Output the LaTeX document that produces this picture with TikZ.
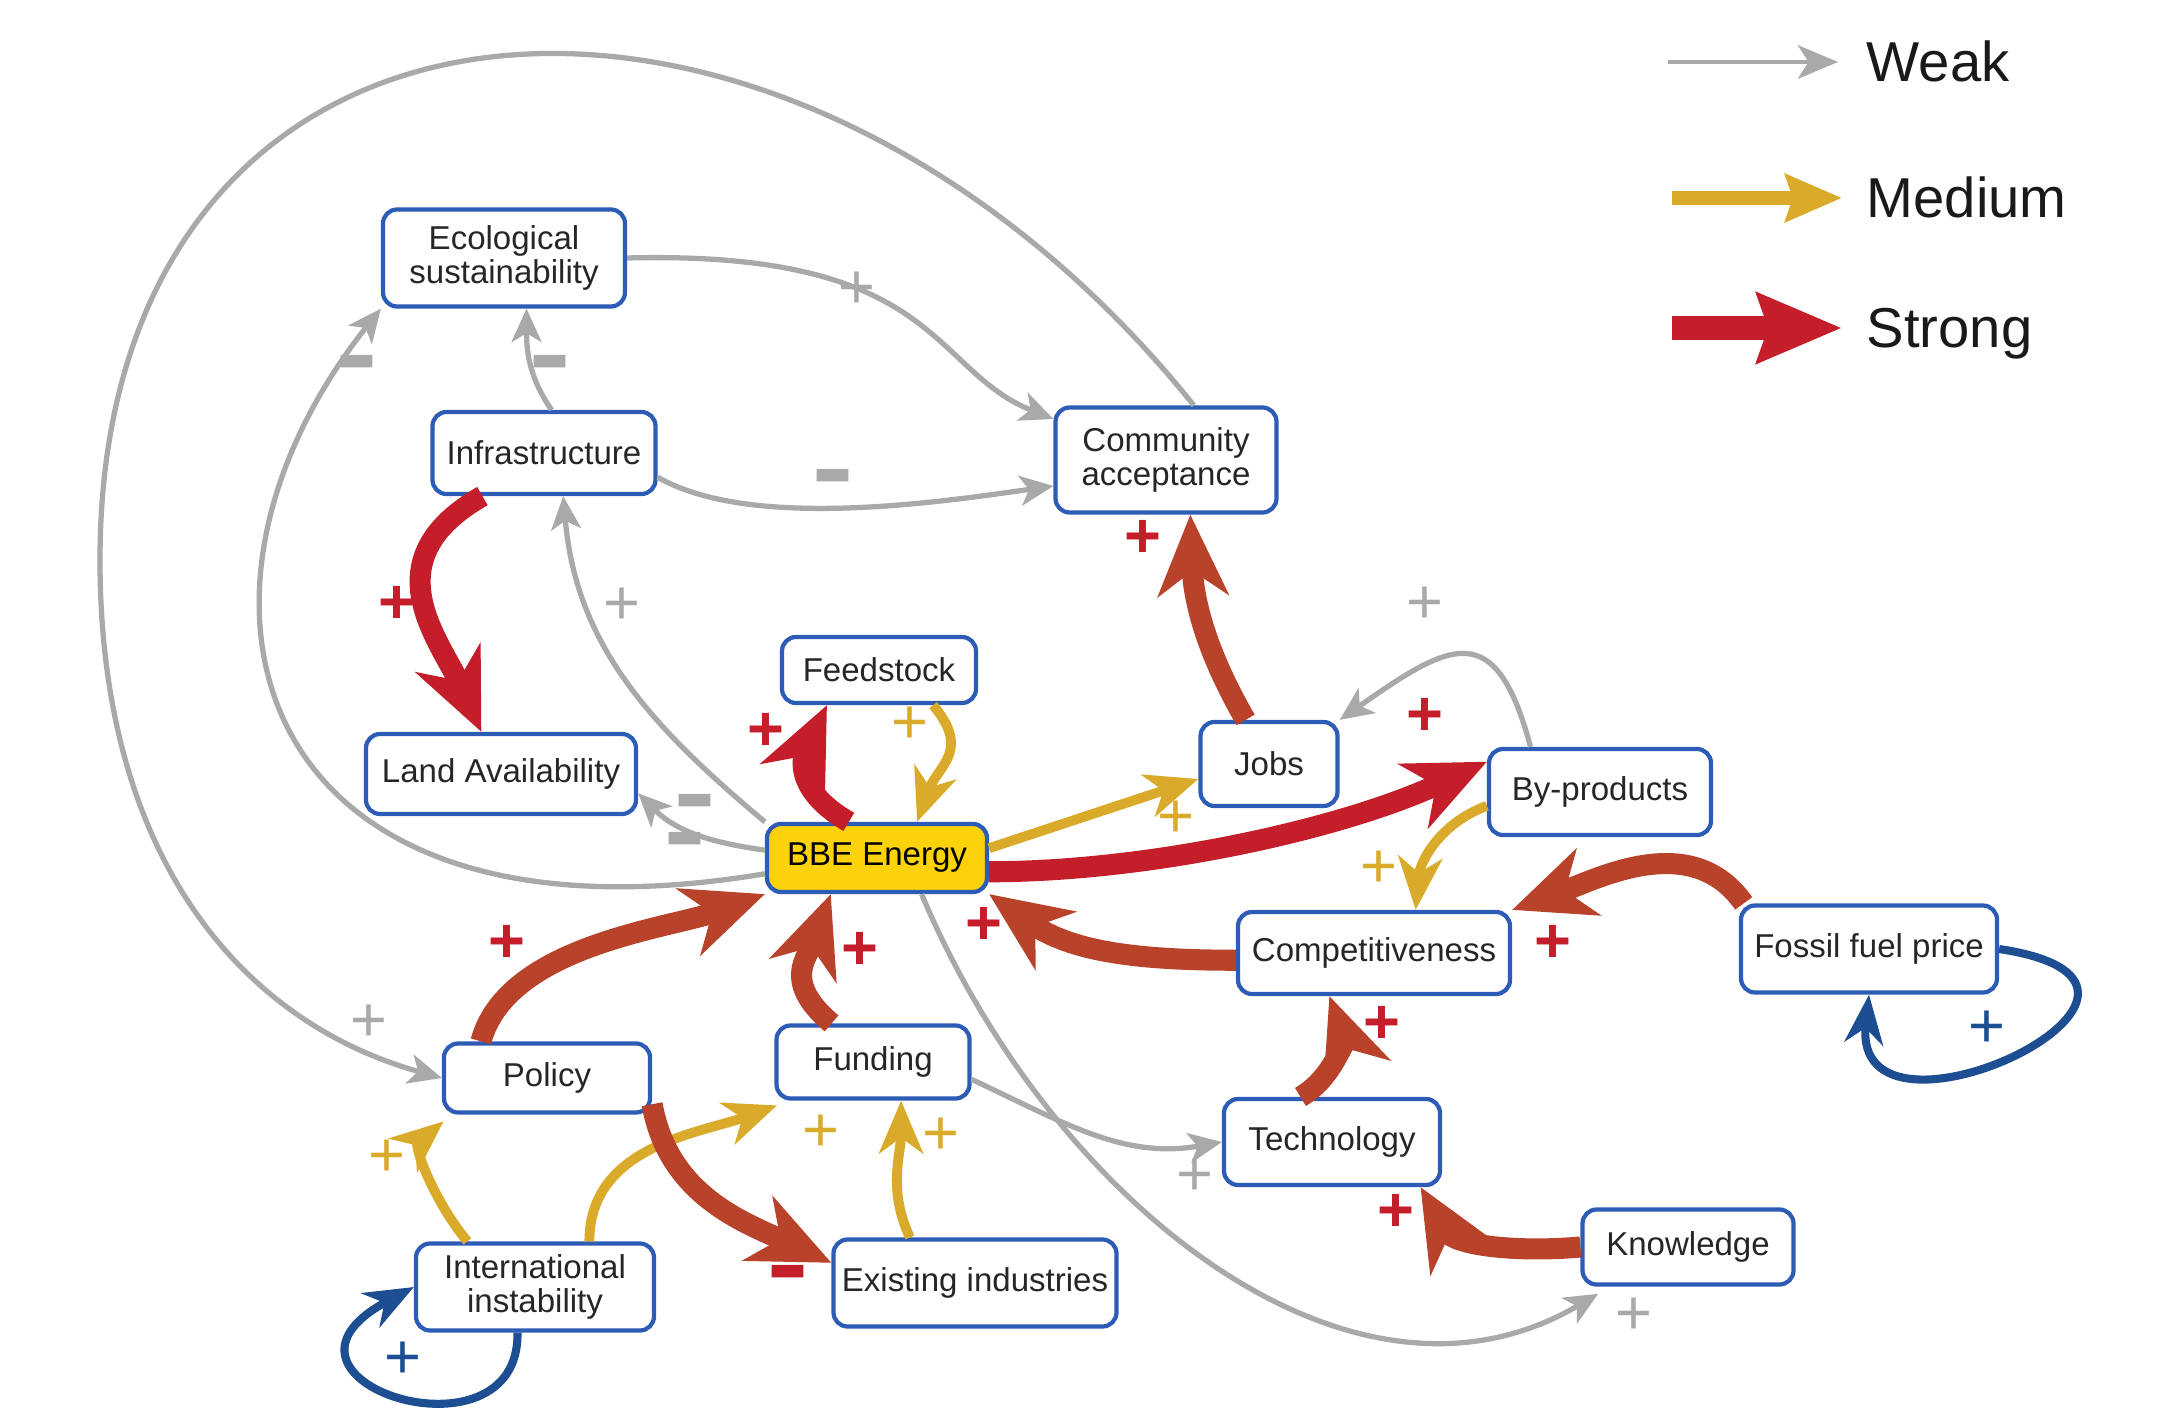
\documentclass[tikz,border=0pt]{standalone}
\usepackage{fontspec}
\setmainfont{Liberation Sans}
\usepackage{graphicx}
\usetikzlibrary{arrows.meta}
\usetikzlibrary{positioning}
\definecolor{weakgray}{RGB}{168,170,170}
\definecolor{midyellow}{RGB}{218,170,42}
\definecolor{strongred}{RGB}{196,30,42}
\definecolor{strongrust}{RGB}{185,66,43}
\definecolor{loopblue}{RGB}{28,78,145}
\definecolor{boxblue}{RGB}{45,92,182}
\definecolor{bbegold}{RGB}{252,210,10}
\newcommand{\minusmark}{\raisebox{-8.9pt}[1.3pt][1.3pt]{\scalebox{1}[1.8]{\textbf{−}}}}
\tikzset{
    factor/.style={draw=boxblue, line width=1.2pt, rounded corners=4pt, fill=white,
        align=center, inner sep=1pt, text=black!85,
        font=\fontsize{9.4}{9.8}\selectfont},
    weakline/.style={draw=weakgray, line width=1.5pt,
        -{Stealth[length=9.5pt,width=8.5pt,inset=2.5pt]}},
    mediumline/.style={draw=midyellow, line width=2.8pt,
        -{Stealth[length=15pt,width=12.5pt,inset=4.5pt]}},
    strongline/.style={draw=strongrust, line width=6pt,
        -{Stealth[length=23pt,width=20pt,inset=7pt]}},
    strongredline/.style={strongline, draw=strongred},
    loopline/.style={draw=loopblue, line width=2.3pt,
        -{Stealth[length=14pt,width=11pt,inset=4.5pt]}},
    weaksign/.style={text=weakgray, inner sep=0pt, font=\fontsize{18}{18}\selectfont},
    mediumsign/.style={weaksign, text=midyellow},
    strongsign/.style={weaksign, text=strongred, font=\bfseries\fontsize{18}{18}\selectfont},
    loopsign/.style={weaksign, text=loopblue},
    legendtext/.style={anchor=base west, inner sep=0pt, text=black!90,
        font=\fontsize{16}{16}\selectfont},
}
\begin{document}
\begin{tikzpicture}[x=0.1mm, y=0.1mm]
	\useasboundingbox (0,0) rectangle (2167,-1411);
	% factors
	\node[factor, minimum width=24.2mm, minimum height=9.7mm] (ecol) at (504,-258) {Ecological\\sustainability};
	\node[factor, minimum width=22.3mm, minimum height=8.2mm] (infra) at (544,-453) {Infrastructure};
	\node[factor, minimum width=22.1mm, minimum height=10.5mm] (comm) at (1166,-460) {Community\\acceptance};
	\node[factor, minimum width=19.4mm, minimum height=6.6mm] (feed) at (879,-670) {Feedstock};
	\node[factor, minimum width=27mm, minimum height=8mm] (land) at (501,-774) {Land Availability};
	\node[factor, minimum width=13.7mm, minimum height=8.4mm] (jobs) at (1269,-764) {Jobs};
	\node[factor, minimum width=22.2mm, minimum height=8.6mm] (byprod) at (1600,-792) {By-products};
	\node[factor, fill=bbegold, text=black, minimum width=22mm, minimum height=6.8mm] (bbe) at (877,-858) {BBE Energy};
	\node[factor, minimum width=27.2mm, minimum height=8.2mm] (comp) at (1374,-953) {Competitiveness};
	\node[factor, minimum width=25.6mm, minimum height=8.7mm] (fossil) at (1869,-949) {Fossil fuel price};
	\node[factor, minimum width=20.6mm, minimum height=6.9mm] (policy) at (547,-1078) {Policy};
	\node[factor, minimum width=19.3mm, minimum height=7.3mm] (fund) at (873,-1062) {Funding};
	\node[factor, minimum width=21.6mm, minimum height=8.6mm] (tech) at (1332,-1142) {Technology};
	\node[factor, minimum width=23.8mm, minimum height=8.7mm] (intl) at (535,-1287) {International\\instability};
	\node[factor, minimum width=28.3mm, minimum height=8.7mm] (exist) at (975,-1283) {Existing industries};
	\node[factor, minimum width=21.1mm, minimum height=7.5mm] (know) at (1688,-1247) {Knowledge};

	% weak links
	\draw[weakline] (ecol.east) .. controls (940,-250) and (930,-370) .. (comm.160);
	\draw[weakline] (infra.80) to[out=125,in=-90] (ecol.294);
	\draw[weakline] (infra.348) to[out=-30,in=188,looseness=0.7] (comm.193);
	\draw[weakline] (bbe.north west) to[out=140,in=-85] (infra.294);
	\draw[weakline] (bbe.176) to[out=172,in=-45] (land.352);
	\draw[weakline, shorten >=4pt] (bbe.321) .. controls (1050,-1200) and (1350,-1440) .. (know.207);
	\draw[weakline] (fund.350) to[out=-25,in=190] (tech.west);
	\draw[weakline] (byprod.147) to[out=105,in=35,looseness=1.8] (jobs.north east);
	\draw[weakline] (comm.63) .. controls (780,110) and (100,60) .. (100,-560)
		.. controls (100,-860) and (244,-1023) .. (policy.west);
	\draw[weakline] (bbe.188) .. controls (250,-960) and (150,-600) .. (ecol.south west);
	\node[weaksign] (l1) at (857,-290) {+};
	\node[weaksign] (l2) at (550,-368) {\minusmark};
	\node[weaksign] (l3) at (833,-482) {\minusmark};
	\node[weaksign] (l4) at (622,-606) {+};
	\node[weaksign, align=left] (l5) at (690,-826) {\hspace*{2.6pt}\minusmark\\[-7.2pt]\minusmark};
	\node[weaksign] (l7) at (1634,-1316) {+};
	\node[weaksign] (l8) at (1195,-1177) {+};
	\node[weaksign] (l9) at (1425,-605) {+};
	\node[weaksign] (l10) at (369,-1023) {+};
	\node[weaksign] (l11) at (357,-368) {\minusmark};

	% medium links
	\draw[mediumline] (feed.327) to[out=-50,in=70,looseness=1.3] (bbe.42);
	\draw[mediumline] (bbe.5) -- (jobs.192);
	\draw[mediumline] (byprod.187) to[out=200,in=85] (comp.46);
	\draw[mediumline, shorten >=3pt] (intl.146) to[out=130,in=220] (policy.201);
	\draw[mediumline, shorten >=4pt] (intl.40) to[out=90,in=200] (fund.205);
	\draw[mediumline] (exist.145) to[out=115,in=-90] (fund.306);
	\node[mediumsign] (l12) at (910,-725) {+};
	\node[mediumsign] (l13) at (1176,-819) {+};
	\node[mediumsign] (l14) at (1379,-869) {+};
	\node[mediumsign] (l15) at (387,-1158) {+};
	\node[mediumsign] (l16) at (821,-1133) {+};
	\node[mediumsign] (l17) at (941,-1136) {+};

	% strong links
	\draw[strongredline] (infra.215) .. controls (370,-560) and (440,-640) .. (land.115);
	\draw[strongredline] (bbe.128) to[out=150,in=245,looseness=1.3] (feed.214);
	\draw[strongredline] (bbe.353) to[out=0,in=205,looseness=0.8] (byprod.165);
	\draw[strongline] (jobs.118) to[out=120,in=-88] (comm.294);
	\draw[strongline] (policy.151) to[out=75,in=200,looseness=0.8] (bbe.south west);
	\draw[strongline] (fund.137) to[out=140,in=250,looseness=1.3] (bbe.218);
	\draw[strongline] (comp.183) to[out=180,in=-35] (bbe.south east);
	\draw[strongline] (fossil.160) to[out=125,in=20] (comp.north east);
	\draw[strongline] (tech.125) to[out=30,in=-70] (comp.224);
	\draw[strongline] (know.west) to[out=185,in=-60] (tech.333);
	\draw[strongline] (policy.346) to[out=-80,in=155] (exist.172);
	\node[strongsign] (l18) at (397,-605) {+};
	\node[strongsign] (l19) at (766,-732) {+};
	\node[strongsign] (l20) at (1425,-717) {+};
	\node[strongsign] (l21) at (1143,-539) {+};
	\node[strongsign] (l22) at (507,-944) {+};
	\node[strongsign] (l23) at (860,-951) {+};
	\node[strongsign] (l24) at (984,-926) {+};
	\node[strongsign] (l25) at (1553,-944) {+};
	\node[strongsign] (l26) at (1382,-1025) {+};
	\node[strongsign] (l27) at (1396,-1213) {+};
	\node[strongsign] (l28) at (788,-1278) {\minusmark};

	% self loops
	\draw[loopline] (fossil.east) .. controls (2240,-985) and (1850,-1170) .. (fossil.south);
	\draw[loopline] (intl.249) .. controls (520,-1470) and (240,-1380) .. (intl.west);
	\node[loopsign] (l29) at (1987,-1029) {+};
	\node[loopsign] (l30) at (403,-1360) {+};

	% legend
	\coordinate (weakA) at (1668,-62);
	\coordinate (weakB) at (1838,-62);
	\coordinate (midA) at (1672,-198);
	\coordinate (midB) at (1842,-198);
	\coordinate (strongA) at (1672,-328);
	\coordinate (strongB) at (1842,-328);
	\draw[weakline, line width=1.4pt, -{Stealth[length=11.4pt,width=9.5pt,inset=3pt]}] (weakA) -- (weakB);
	\draw[mediumline, line width=3.8pt, -{Stealth[length=16pt,width=13.3pt,inset=2pt]}] (midA) -- (midB);
	\draw[strongredline, line width=7pt, -{Stealth[length=24pt,width=19.5pt,inset=3pt]}] (strongA) -- (strongB);
	\node[legendtext] (weaktext) at (1866,-82) {Weak};
	\node[legendtext] (midtext) at (1866,-218) {Medium};
	\node[legendtext] (strongtext) at (1866,-348) {Strong};
\end{tikzpicture}
\end{document}
